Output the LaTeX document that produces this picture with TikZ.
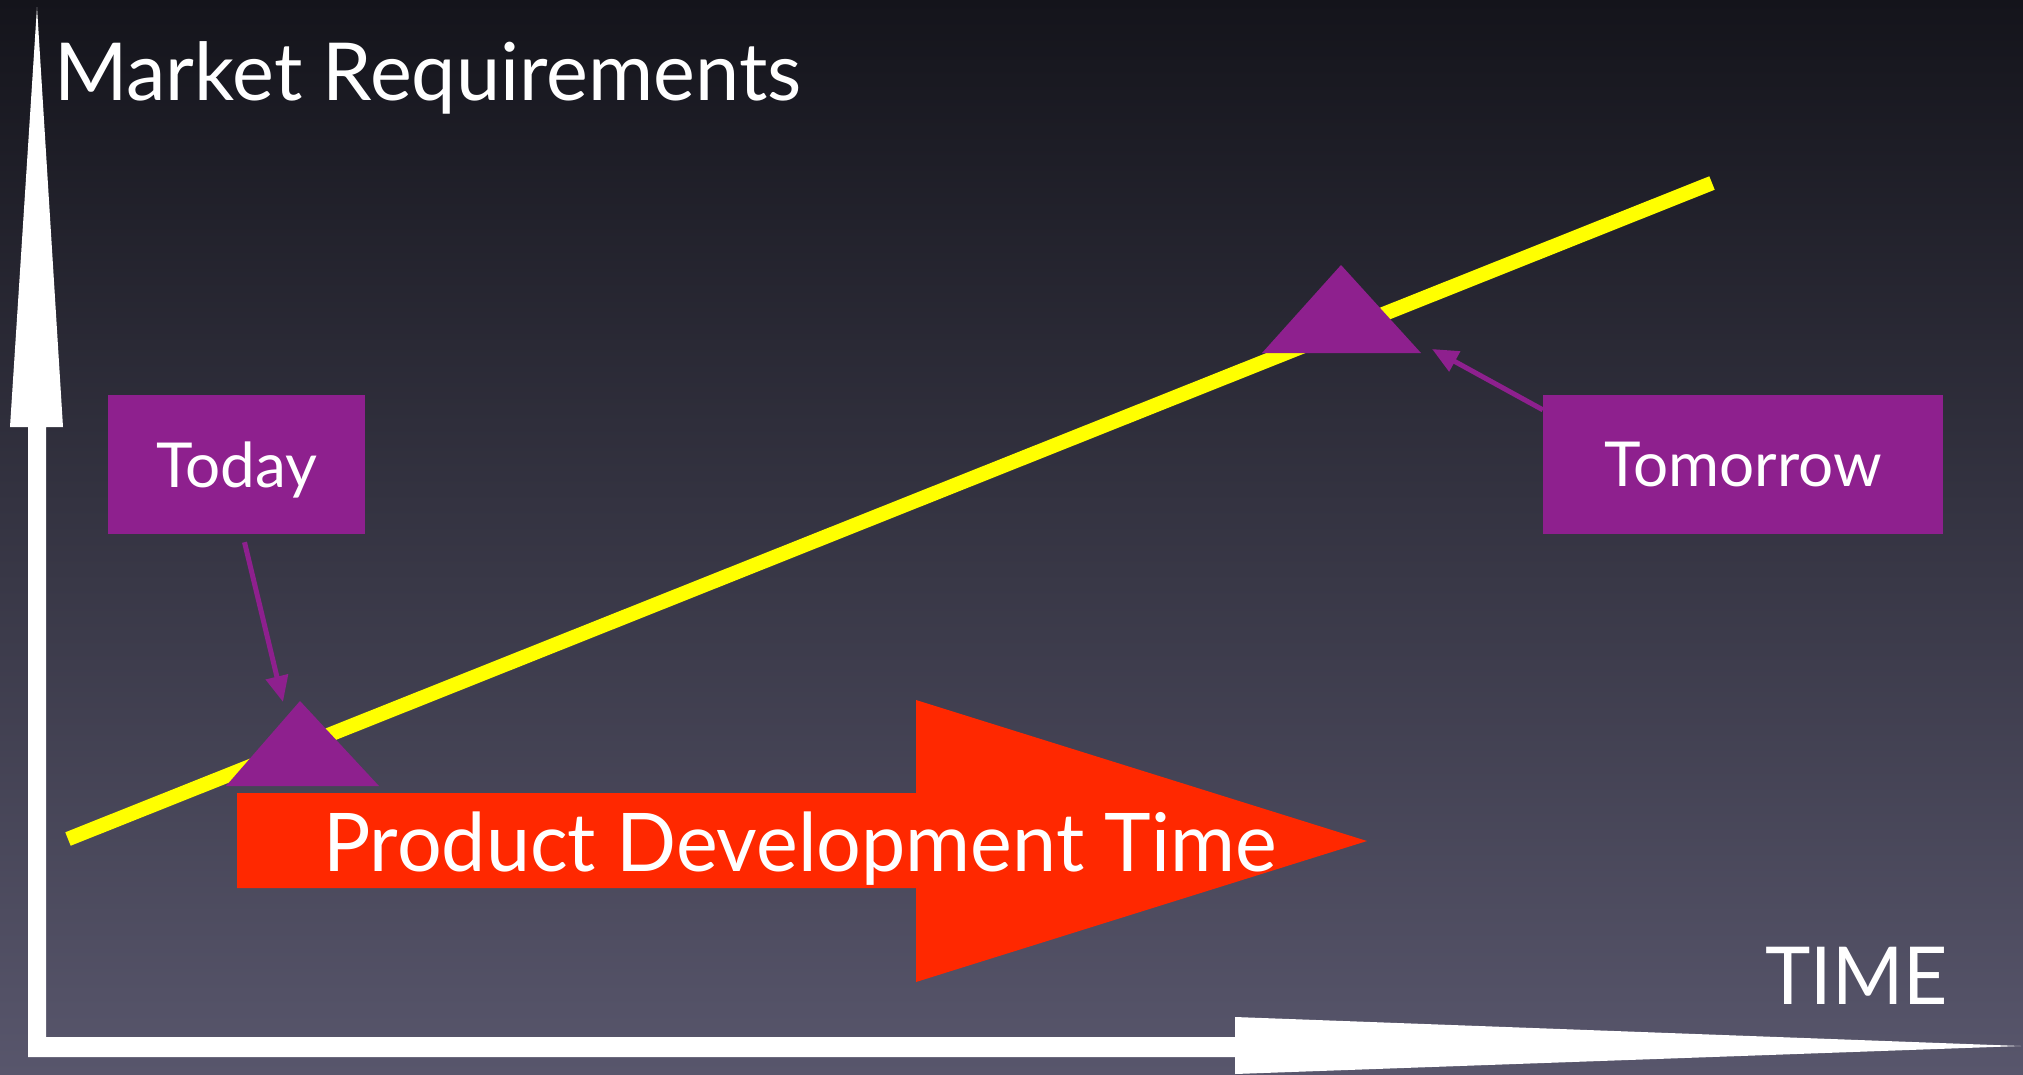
\documentclass[tikz,border=0pt]{standalone}
\usepackage{fontspec}
\setmainfont{Lato}
\usetikzlibrary{arrows.meta,calc}
\definecolor{bgtop}{RGB}{20,20,27}
\definecolor{bgbot}{RGB}{88,86,108}
\definecolor{purp}{RGB}{142,32,142}
\definecolor{redarrow}{RGB}{255,40,0}
\definecolor{yel}{RGB}{255,255,0}
\tikzset{
  lbl/.style={text=white, inner sep=0pt, anchor=base west},
  box/.style={fill=purp, text=white, minimum width=257pt, minimum height=139pt, inner sep=0pt, text depth=0pt, font=\fontsize{62}{70}\selectfont},
  ptr/.style={draw=purp, line width=5pt, -{Triangle[length=26pt,width=22pt]}},
  tri/.style={fill=purp},
}
\begin{document}
\begin{tikzpicture}[x=1pt,y=-1pt]
\shade[top color=bgtop, bottom color=bgbot] (0,0) rectangle (2023,1074);
\useasboundingbox (0,0) rectangle (2023,1074);
% axes
\fill[white] (28,1057) -- (28,427) -- (10,427) -- (37,7) -- (63,427) -- (46,427) -- (46,1037)
  -- (1235,1037) -- (1235,1017) -- (2021,1046) -- (1235,1074) -- (1235,1057) -- cycle;
% yellow line
\draw[yel, line width=14.5pt] (68,839) -- (1712,183);
% triangles
\fill[tri] (226,786) -- (300,701) -- (379,786) -- cycle;
\fill[tri] (1262,353) -- (1341,265) -- (1421,353) -- cycle;
\coordinate (todaytip) at (283,702);
\coordinate (tomtip) at (1432,349);
% red arrow
\fill[redarrow] (237,793) -- (916,793) -- (916,700) -- (1367,841) -- (916,982) -- (916,888) -- (237,888) -- cycle;
\node[lbl, font=\fontsize{81}{90}\selectfont] (pdt) at (323,871) {\scalebox{0.975}[1]{Product Development Time}};
% labels
\node[lbl, font=\fontsize{80}{90}\selectfont] (mr) at (54,100) {\scalebox{0.99}[1]{Market Requirements}};
\node[lbl, font=\fontsize{80}{90}\selectfont, anchor=base east] (time) at (1948,1004) {\scalebox{0.96}[1]{TIME}};
% boxes
\node[box] (today) at (236.5,464.5) {Today};
\node[box, minimum width=400pt] (tomorrow) at (1743,464.5) {Tomorrow};
% pointers
\draw[ptr] ($(today.south)+(8,8)$) -- (todaytip);
\draw[ptr] ($(tomorrow.north west)+(0,15)$) -- (tomtip);
\end{tikzpicture}
\end{document}
